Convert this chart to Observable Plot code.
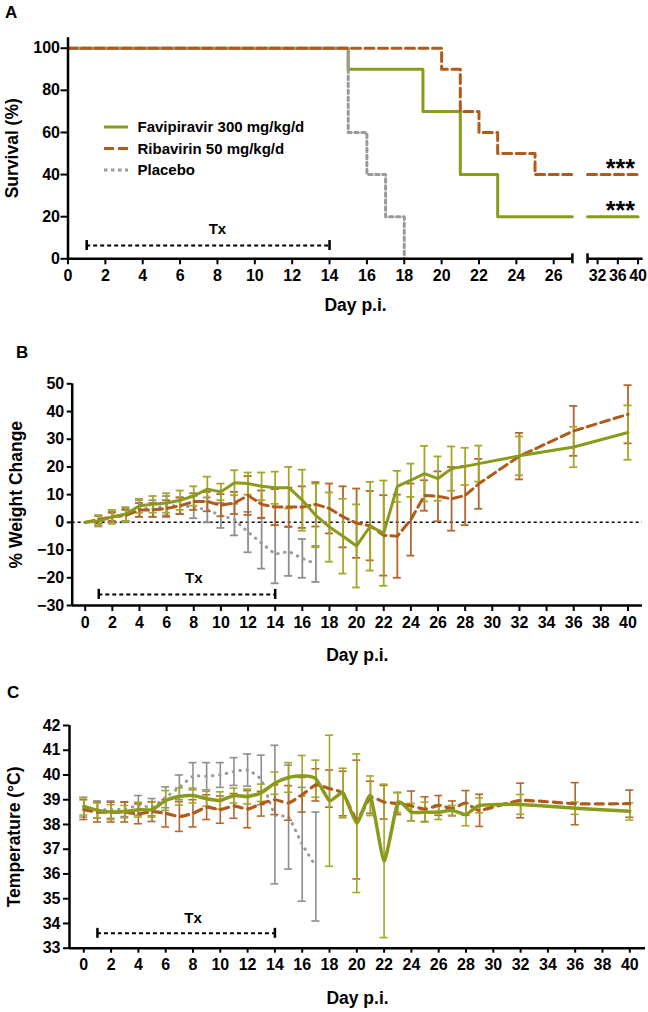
<!DOCTYPE html>
<html><head><meta charset="utf-8">
<script src="https://cdn.jsdelivr.net/npm/d3@7"></script>
<script src="https://cdn.jsdelivr.net/npm/@observablehq/plot@0.6"></script>
<style>
body{margin:0;background:#fff;font-family:"Liberation Sans",Arial,sans-serif;}
#page{position:relative;width:648px;height:1012px;overflow:hidden;background:#fff}
.panel{position:absolute;left:0}
.lab{position:absolute;font-weight:bold;font-size:17px;color:#000;line-height:1}
</style></head><body><div id="page"></div>
<script>
// ---------- colours ----------
const cFav = "#8a9a1c", cFavBar = "#a4a82a";
const cRib = "#b05a1c", cRibBar = "#b4662c";
const cPla = "#9a9a9a", cPlaBar = "#8e8e8e";
const groups = ["Favipiravir 300 mg/kg/d", "Ribavirin 50 mg/kg/d", "Placebo"];

// ---------- A: survival ----------
const survDaysFav = [0, 15, 19, 21, 23, 40];
const survFav     = [100, 90, 70, 40, 20, 20];
const survDaysRib = [0, 20, 21, 22, 23, 25, 40];
const survRib     = [100, 90, 70, 60, 50, 40, 40];
const survDaysPla = [0, 15, 16, 17, 18];
const survPla     = [100, 60, 40, 20, 0];
const axisBreak   = [27, 30];
const survXTicks  = [0,2,4,6,8,10,12,14,16,18,20,22,24,26,32,36,40];
const survYTicks  = [0,20,40,60,80,100];
const sigX = [36.5, 36.5], sigY = [40, 20], sigText = ["***", "***"];

// treatment period
const txStart = 1, txEnd = 14, txLabelDay = 8;

// ---------- B: weight change ----------
const days = [0,1,2,3,4,5,6,7,8,9,10,11,12,13,14,15,16,17,18,19,20,21,22,23,24,25,26,27,28,29,32,36,40];
const plaDays = [0,1,2,3,4,5,6,7,8,9,10,11,12,13,14,15,16,17];
const favWMean = [0,0.5,2,3,6,6.5,7,8,9.5,12,11,14.3,14,13,12.5,12.5,8,2.5,-1.7,-5,-8.5,-1.4,-3.9,13,15.2,17.6,15.8,19.4,20.2,21.2,24,27.2,32.4];
const favWSd   = [0,2,2.5,2.5,2.5,3,3.5,3.5,3.5,4.5,3,4.5,4,5,5.8,7.5,11,11.5,12.5,13.5,15,16,19,5.6,6,10,8,8,6.7,6.5,7,7.3,9.8];
const ribWMean = [0,1,2,2.5,4.5,4.5,5,6,7.5,7.5,6.2,7,9.7,6.5,5.5,5.5,5.5,6.5,5,2,-0.3,-1.2,-4.7,-5,1,9.7,9.4,8.5,9.7,13.9,23.9,33,39];
const ribWSd   = [0,1.5,1.5,2,2.5,2.5,3,3,3,3.5,4,4,7,5,6.5,7,7.5,8,9,11,12.5,12.5,14.5,15,13,5.5,9,11.5,10.7,9,8.4,9,10.5];
const plaWMean = [0,0.5,2,2.5,5,5,6,6,5.5,4.5,2.5,1,-3.5,-7.5,-11.5,-10.5,-13,-15];
const plaWSd   = [0,1.8,2,2.5,3,3,3.5,3,4,4.5,4.5,5.7,7.3,9.2,10.5,8.8,7,6.5];
const dayTicks = [0,2,4,6,8,10,12,14,16,18,20,22,24,26,28,30,32,34,36,38,40];
const wTicks = [-30,-20,-10,0,10,20,30,40,50];

// ---------- C: temperature ----------
const favTMean = [38.73,38.57,38.5,38.52,38.6,38.6,38.97,39.13,39.17,39.04,38.97,39.17,39.13,39.28,39.67,39.9,39.97,39.85,38.96,39.27,38.05,39.16,36.53,38.88,38.5,38.5,38.5,38.57,38.4,38.77,38.81,38.66,38.53];
const favTSd   = [0.35,0.3,0.3,0.25,0.3,0.3,0.4,0.35,0.3,0.3,0.35,0.3,0.3,0.35,0.45,0.6,0.82,0.75,2.65,1.0,2.8,0.8,3.1,0.4,0.35,0.4,0.3,0.2,0.45,0.3,0.4,0.25,0.35];
const ribTMean = [38.6,38.5,38.5,38.5,38.43,38.52,38.45,38.32,38.45,38.7,38.6,38.75,38.62,38.84,39.0,38.87,39.2,39.6,39.45,39.25,38.2,39.1,38.9,38.85,38.75,38.62,38.77,38.65,38.87,38.57,38.97,38.84,38.84];
const ribTSd   = [0.4,0.4,0.4,0.4,0.4,0.4,0.55,0.6,0.55,0.5,0.55,0.5,0.75,0.5,0.6,0.7,0.7,0.65,0.75,0.9,2.4,0.65,0.68,0.45,0.6,0.5,0.4,0.3,0.5,0.65,0.7,0.85,0.55];
const plaTMean = [38.7,38.6,38.6,38.62,38.77,38.7,39.1,39.5,39.95,39.95,40.0,40.14,40.2,39.8,38.4,38.3,37.2,36.3];
const plaTSd   = [0.4,0.35,0.35,0.3,0.4,0.35,0.42,0.5,0.55,0.55,0.5,0.56,0.65,1.0,2.8,2.1,2.3,2.2];
const tTicks = [33,34,35,36,37,38,39,40,41,42];

// ---------- helpers ----------
const FONT = "Liberation Sans, Arial, sans-serif";
const TICK = 16;
const style = {fontFamily: FONT, fontSize: "16px", color: "#000", background: "transparent", overflow: "visible"};
const smooth = d3.curveCardinal.tension(0.5);
function rows(ds, mean, sd) { return ds.map((d, i) => ({day: d, m: mean[i], lo: mean[i] - sd[i], hi: mean[i] + sd[i], sd: sd[i]})); }
function errMarks(data, color, w) {
  const d = data.filter(r => r.sd > 0);
  return [
    Plot.ruleX(d, {x: "day", y1: "lo", y2: "hi", stroke: color, strokeWidth: w}),
    Plot.ruleY(d, {y: "hi", x1: "day", x2: "day", insetLeft: -4, insetRight: -4, stroke: color, strokeWidth: w}),
    Plot.ruleY(d, {y: "lo", x1: "day", x2: "day", insetLeft: -4, insetRight: -4, stroke: color, strokeWidth: w})
  ];
}
function survSegments(ds, vals) {
  const out = [];
  const valAt = t => { let v = vals[0]; ds.forEach((d, i) => { if (d <= t) v = vals[i]; }); return v; };
  const last = ds[ds.length - 1];
  ds.forEach((d, i) => { if (d <= axisBreak[0]) out.push({day: d, surv: vals[i], seg: 1}); });
  if (last > axisBreak[0]) {
    out.push({day: axisBreak[0], surv: valAt(axisBreak[0]), seg: 1});
    out.push({day: axisBreak[1], surv: valAt(axisBreak[1]), seg: 2});
    ds.forEach((d, i) => { if (d > axisBreak[1]) out.push({day: d, surv: vals[i], seg: 2}); });
  }
  return out;
}
function txMarks(level, labelDy) {
  return [
    Plot.ruleY([level], {x1: txStart, x2: txEnd, strokeWidth: 2, strokeDasharray: "4,3"}),
    Plot.ruleX([txStart, txEnd], {y1: level, y2: level, insetTop: -5, insetBottom: -5, strokeWidth: 2.5}),
    Plot.text(["Tx"], {x: txLabelDay, y: level, dy: labelDy, fontSize: 15, fontWeight: "bold"})
  ];
}
function titleMarks(yTitle, ydx, xdy) {
  return [
    Plot.text([yTitle], {frameAnchor: "left", textAnchor: "middle", rotate: -90, dx: ydx, fontSize: 17.5, fontWeight: "bold", lineAnchor: "middle"}),
    Plot.text(["Day p.i."], {frameAnchor: "bottom", textAnchor: "middle", dy: xdy, fontSize: 17.5, fontWeight: "bold", lineAnchor: "middle"})
  ];
}
const page = document.getElementById("page");
function place(el, top) { el.classList.add("panel"); el.style.top = top + "px"; page.appendChild(el); }
function label(txt, left, top, size) { const d = document.createElement("div"); d.className = "lab"; d.textContent = txt; d.style.left = left + "px"; d.style.top = top + "px"; if (size) d.style.fontSize = size + "px"; page.appendChild(d); }

// ---------- Panel A ----------
const segFav = survSegments(survDaysFav, survFav);
const segRib = survSegments(survDaysRib, survRib);
const segPla = survSegments(survDaysPla, survPla);
const plotA = Plot.plot({
  width: 648, height: 320, style,
  marginLeft: 67.5, marginRight: 5.4, marginTop: 37.2, marginBottom: 61.7,
  x: {type: "linear", domain: [0, axisBreak[0], axisBreak[1], 41], range: [67.5, 571.9, 587, 642.6], label: null},
  y: {domain: [0, 105], label: null},
  marks: [
    Plot.line(segFav, {x: "day", y: "surv", z: "seg", curve: "step-after", stroke: cFav, strokeWidth: 3}),
    Plot.line(segPla, {x: "day", y: "surv", z: "seg", curve: "step-after", stroke: cPla, strokeWidth: 3, strokeDasharray: "3.5,3.5"}),
    Plot.line(segRib, {x: "day", y: "surv", z: "seg", curve: "step-after", stroke: cRib, strokeWidth: 3, strokeDasharray: "9,4.5"}),
    Plot.ruleX([0], {strokeWidth: 2.5}),
    Plot.ruleY([0], {x1: 0, x2: axisBreak[0], strokeWidth: 2.5}),
    Plot.ruleY([0], {x1: axisBreak[1], x2: 41, strokeWidth: 2.5}),
    Plot.ruleX(axisBreak, {y1: 0, y2: 0, insetTop: -5, insetBottom: -5, strokeWidth: 2.5}),
    Plot.axisX({ticks: survXTicks, tickSize: 6, tickPadding: 5, strokeWidth: 2, fontSize: TICK, fontWeight: "bold", label: null}),
    Plot.axisY({ticks: survYTicks, tickSize: 7, tickPadding: 1, strokeWidth: 2, fontSize: TICK, fontWeight: "bold", label: null}),
    Plot.text(sigText, {x: (d, i) => sigX[i], y: (d, i) => sigY[i], dy: -6, fontSize: 25, fontWeight: "bold"}),
    ...txMarks(6.3, -16),
    ...titleMarks("Survival (%)", -55.5, 47)
  ]
});
place(plotA, 0);

// legend inside panel A
(function () {
  const ns = "http://www.w3.org/2000/svg";
  const svg = document.createElementNS(ns, "svg");
  svg.setAttribute("width", 240); svg.setAttribute("height", 70);
  svg.style.position = "absolute"; svg.style.left = "100px"; svg.style.top = "113px";
  const styles = [[cFav, null], [cRib, "10,4"], [cPla, "3.5,3.5"]];
  groups.forEach((g, i) => {
    const y = 14 + i * 21.5;
    const l = document.createElementNS(ns, "line");
    l.setAttribute("x1", 4); l.setAttribute("x2", 28); l.setAttribute("y1", y); l.setAttribute("y2", y);
    l.setAttribute("stroke", styles[i][0]); l.setAttribute("stroke-width", 3);
    if (styles[i][1]) l.setAttribute("stroke-dasharray", styles[i][1]);
    svg.appendChild(l);
    const t = document.createElementNS(ns, "text");
    t.setAttribute("x", 37.5); t.setAttribute("y", y); t.setAttribute("dy", "0.36em");
    t.setAttribute("font-family", FONT); t.setAttribute("font-size", 15); t.setAttribute("font-weight", "bold");
    t.textContent = g; svg.appendChild(t);
  });
  page.appendChild(svg);
})();

// ---------- Panel B ----------
const wFav = rows(days, favWMean, favWSd), wRib = rows(days, ribWMean, ribWSd), wPla = rows(plaDays, plaWMean, plaWSd);
const plotB = Plot.plot({
  width: 648, height: 345, style,
  marginLeft: 71.7, marginRight: 6, marginTop: 63.3, marginBottom: 60, insetLeft: 13, insetRight: 14.5,
  x: {domain: [0, 40], label: null},
  y: {domain: [-30, 50], label: null},
  marks: [
    Plot.ruleY([0], {strokeWidth: 1.5, strokeDasharray: "3,3"}),
    ...errMarks(wPla, cPlaBar, 1.8),
    Plot.line(wPla, {x: "day", y: "m", stroke: cPla, strokeWidth: 3, strokeDasharray: "0.5,6.5", strokeLinecap: "round"}),
    ...errMarks(wRib, cRibBar, 1.8),
    ...errMarks(wFav, cFavBar, 1.8),
    Plot.line(wRib, {x: "day", y: "m", stroke: cRib, strokeWidth: 3, strokeDasharray: "9,5"}),
    Plot.line(wFav, {x: "day", y: "m", stroke: cFav, strokeWidth: 3}),
    Plot.ruleX([0], {dx: -13, strokeWidth: 2.5}),
    Plot.ruleY([-30], {strokeWidth: 2.5}),
    Plot.axisX({ticks: dayTicks, tickSize: 6, tickPadding: 5, strokeWidth: 2, fontSize: TICK, fontWeight: "bold", label: null}),
    Plot.axisY({ticks: wTicks, tickSize: 5, tickPadding: 3, strokeWidth: 2, fontSize: TICK, fontWeight: "bold", label: null}),
    ...txMarks(-26, -16),
    ...titleMarks("% Weight Change", -55.7, 50)
  ]
});
place(plotB, 320);

// ---------- Panel C ----------
const tFav = rows(days, favTMean, favTSd), tRib = rows(days, ribTMean, ribTSd), tPla = rows(plaDays, plaTMean, plaTSd);
const plotC = Plot.plot({
  width: 648, height: 347, style,
  marginLeft: 69, marginRight: 3, marginTop: 60, marginBottom: 64.3, insetLeft: 14.3, insetRight: 15.7,
  x: {domain: [0, 40], label: null},
  y: {domain: [33, 42], label: null},
  marks: [
    ...errMarks(tPla, cPlaBar, 1.6),
    Plot.line(tPla, {x: "day", y: "m", curve: smooth, stroke: cPla, strokeWidth: 3, strokeDasharray: "0.5,6.5", strokeLinecap: "round"}),
    ...errMarks(tRib, cRibBar, 1.6),
    ...errMarks(tFav, cFavBar, 1.6),
    Plot.line(tRib, {x: "day", y: "m", curve: smooth, stroke: cRib, strokeWidth: 3.2, strokeDasharray: "8,6"}),
    Plot.line(tFav, {x: "day", y: "m", curve: smooth, stroke: cFav, strokeWidth: 3.5}),
    Plot.ruleX([0], {dx: -14.3, strokeWidth: 2.5}),
    Plot.ruleY([33], {strokeWidth: 2.5}),
    Plot.axisX({ticks: dayTicks, tickSize: 5, tickPadding: 5, strokeWidth: 2, fontSize: TICK, fontWeight: "bold", label: null}),
    Plot.axisY({ticks: tTicks, tickSize: 6, tickPadding: 3, strokeWidth: 2, fontSize: TICK, fontWeight: "bold", label: null}),
    ...txMarks(33.6, -15),
    ...titleMarks("Temperature (°C)", -55, 50)
  ]
});
place(plotC, 665);

// panel letters
label("A", 5, 4);
label("B", 16, 344);
label("C", 7, 684);
</script>
</body></html>
